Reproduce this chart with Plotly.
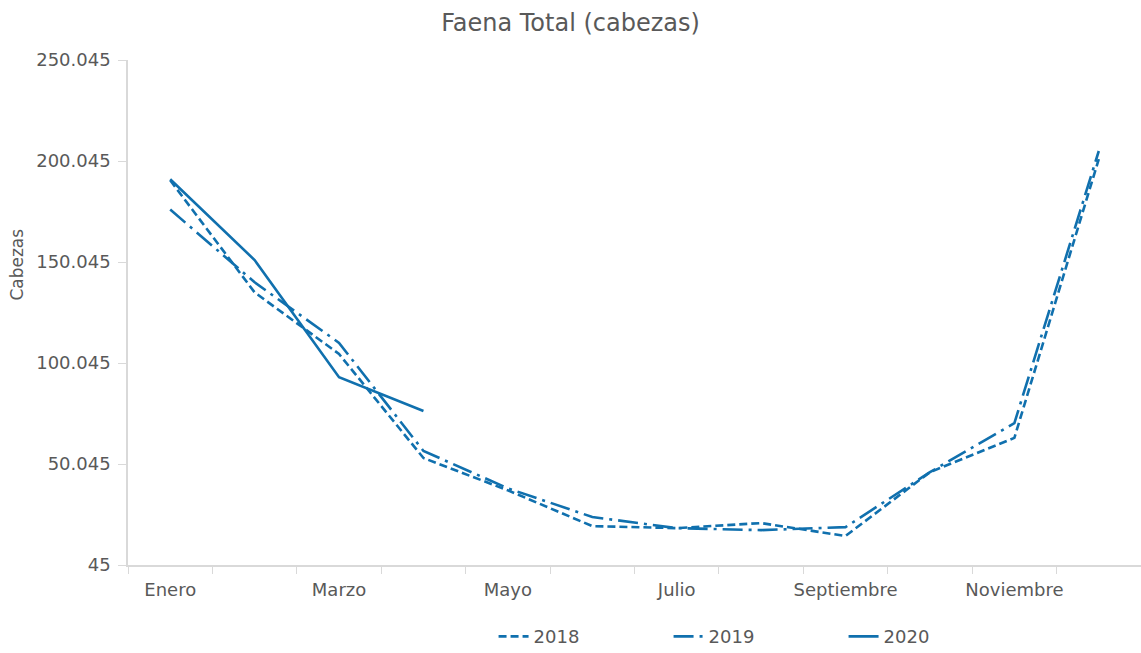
import plotly.graph_objects as go

meses = ["Enero", "Febrero", "Marzo", "Abril", "Mayo", "Junio", "Julio",
         "Agosto", "Septiembre", "Octubre", "Noviembre", "Diciembre"]
faena_2018 = [190500, 135000, 104500, 53000, 37000, 19300, 18300, 20800, 14400, 46000, 63000, 201000]
faena_2019 = [176000, 140000, 110000, 56500, 38000, 23800, 18300, 17300, 18800, 46000, 70300, 205000]
faena_2020 = [191000, 151000, 93000, 76300]
meses_2020 = meses[:4]

y_ticks = [45, 50045, 100045, 150045, 200045, 250045]
y_tick_labels = ["45", "50.045", "100.045", "150.045", "200.045", "250.045"]
x_tick_labels = [m if i % 2 == 0 else "" for i, m in enumerate(meses)]

color = "#1070AE"
font_family = "'DejaVu Sans', Lato, sans-serif"
grey = "#595959"

fig = go.Figure()
fig.add_trace(go.Scatter(x=meses, y=faena_2018, name="2018", mode="lines",
                         line=dict(color=color, width=2.6, dash="8px,4px")))
fig.add_trace(go.Scatter(x=meses, y=faena_2019, name="2019", mode="lines",
                         line=dict(color=color, width=2.6, dash="20px,6px,3px,6px")))
fig.add_trace(go.Scatter(x=meses_2020, y=faena_2020, name="2020", mode="lines",
                         line=dict(color=color, width=2.6)))

fig.update_layout(
    width=1141, height=653,
    margin=dict(l=128, r=0, t=60, b=88, autoexpand=False),
    paper_bgcolor="white", plot_bgcolor="white",
    font=dict(family=font_family, color=grey, size=18),
    title=dict(text="Faena Total (cabezas)", x=0.5, xref="container", xanchor="center",
               y=0.966, yref="container", yanchor="middle", font=dict(size=24, color=grey)),
    showlegend=True,
    legend=dict(orientation="h", x=0.62, xanchor="center", y=-0.142, yanchor="middle",
                font=dict(size=18, color=grey), entrywidth=130, bgcolor="rgba(0,0,0,0)"),
    xaxis=dict(type="category", categoryorder="array", categoryarray=meses,
               tickmode="array", tickvals=meses, ticktext=x_tick_labels, tickangle=0,
               tickson="boundaries", ticks="outside", ticklen=7, tickcolor="#D9D9D9",
               ticklabelstandoff=8,
               showline=True, linecolor="#D9D9D9", linewidth=1.5, showgrid=False,
               automargin=False, range=[-0.5, 11.5], tickfont=dict(size=18, color=grey)),
    yaxis=dict(range=[45, 250045], tickmode="array", tickvals=y_ticks, ticktext=y_tick_labels,
               ticks="outside", ticklen=8, tickcolor="#D9D9D9", automargin=False,
               ticklabelstandoff=4,
               showline=True, linecolor="#D9D9D9", linewidth=1.5, showgrid=False,
               zeroline=False, tickfont=dict(size=18, color=grey)),
    annotations=[dict(text="Cabezas", textangle=-90, xref="paper", yref="paper",
                      x=-0.11, y=0.594, xanchor="center", yanchor="middle",
                      showarrow=False, font=dict(size=17, color=grey))],
)

fig.write_html("out.html", post_script="document.body.style.margin='0';",
               config={"displayModeBar": False})
